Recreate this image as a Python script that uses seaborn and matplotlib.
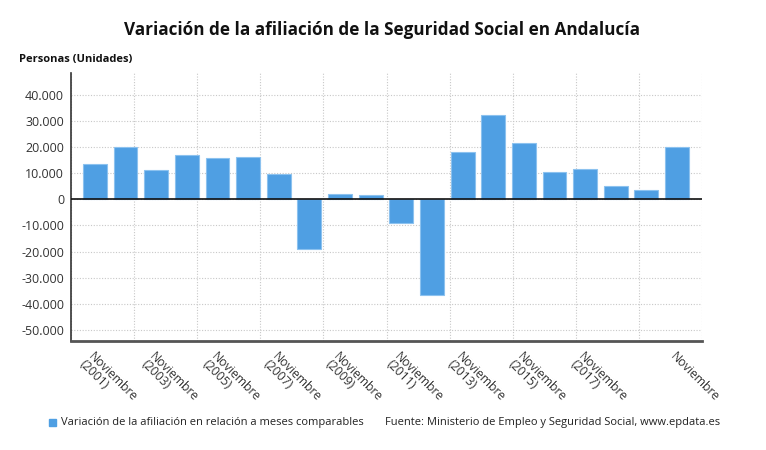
import numpy as np
import pandas as pd
import seaborn as sns
import matplotlib.pyplot as plt
from matplotlib.ticker import FuncFormatter, FixedLocator

years = list(range(2001, 2021))
values = [13500, 19900, 11400, 17000, 15700, 16200, 9700, -19000, 2000, 1800,
          -9000, -36600, 18300, 32300, 21500, 10500, 11600, 5000, 3600, 19900]
tick_pos = [0, 2, 4, 6, 8, 10, 12, 14, 16, 19]
tick_labels = ["Noviembre\n(2001)", "Noviembre\n(2003)", "Noviembre\n(2005)",
               "Noviembre\n(2007)", "Noviembre\n(2009)", "Noviembre\n(2011)",
               "Noviembre\n(2013)", "Noviembre\n(2015)", "Noviembre\n(2017)",
               "Noviembre"]

df = pd.DataFrame({"periodo": [str(y) for y in years], "valor": values})

sns.set_style("white")
plt.rcParams['font.family'] = ['Open Sans', 'DejaVu Sans']

fig = plt.figure(figsize=(7.66, 4.5), dpi=100)
ax = fig.add_axes([0.0927, 0.242, 0.824, 0.596])

sns.barplot(data=df, x="periodo", y="valor", color="#4f9fe3", saturation=1,
            width=0.78, edgecolor="#8cc2ef", linewidth=0.8, ax=ax, zorder=3)

xmin, xmax = -0.78, 19.82
ax.set_xlim(xmin, xmax)
ax.set_ylim(-54300, 48400)
ax.set_yticks(np.arange(-50000, 40001, 10000))
ax.yaxis.set_major_formatter(FuncFormatter(lambda v, p: f"{int(v):,}".replace(",", ".")))

ax.set_xticks(tick_pos)
ax.set_xticklabels(tick_labels, rotation=-45, ha="left", va="top",
                   rotation_mode="anchor", fontsize=8.8, color="#333333",
                   linespacing=0.9)
ax.xaxis.set_minor_locator(FixedLocator(np.linspace(xmin, xmax, 11)))

ax.grid(axis="y", which="major", color="#c8c8c8", linestyle=(0, (1, 1.5)), linewidth=0.8, zorder=0)
ax.grid(axis="x", which="minor", color="#c8c8c8", linestyle=(0, (1, 1.5)), linewidth=0.8, zorder=0)
ax.grid(axis="x", which="major", visible=False)
ax.set_axisbelow(True)

ax.axhline(0, color="#111111", linewidth=1.2, zorder=4)

for s in ["top", "right"]:
    ax.spines[s].set_visible(False)
ax.spines["left"].set_color("#333333")
ax.spines["left"].set_linestyle((0, (1, 1)))
ax.spines["left"].set_linewidth(1.2)
ax.spines["bottom"].set_color("#555555")
ax.spines["bottom"].set_linewidth(2)

ax.tick_params(axis="y", length=3, width=1, color="#333333", labelsize=9,
               labelcolor="#333333", pad=2)
ax.tick_params(axis="x", which="major", length=3, width=1, color="#333333", pad=3)
ax.tick_params(axis="x", which="minor", length=0)
ax.set_xlabel("")
ax.set_ylabel("")

fig.text(0.499, 0.933, "Variación de la afiliación de la Seguridad Social en Andalucía",
         ha="center", va="center", fontsize=12.3, fontweight="bold", color="#111111")
fig.text(19 / 766, 1 - 59 / 450, "Personas (Unidades)", ha="left", va="center",
         fontsize=8, fontweight="bold", color="#111111")

fig.patches.append(plt.Rectangle((49 / 766, 1 - 426 / 450), 7 / 766, 7 / 450,
                                 transform=fig.transFigure, color="#4f9fe3"))
fig.text(61 / 766, 1 - 422 / 450, "Variación de la afiliación en relación a meses comparables",
         ha="left", va="center", fontsize=8, color="#222222")
fig.text(385 / 766, 1 - 422 / 450, "Fuente: Ministerio de Empleo y Seguridad Social, www.epdata.es",
         ha="left", va="center", fontsize=8, color="#222222")

fig.savefig("out.png", dpi=100)
